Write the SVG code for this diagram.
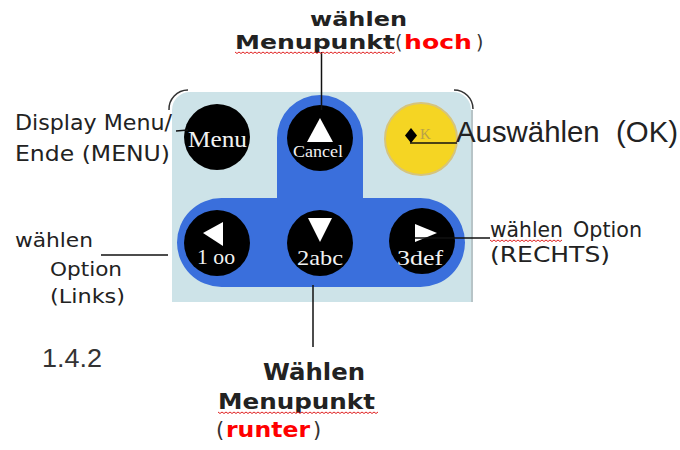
<svg xmlns="http://www.w3.org/2000/svg" width="680" height="450" viewBox="0 0 680 450">
<style>
.lbl{font-family:"DejaVu Sans","Liberation Sans",sans-serif;fill:#222}
.bold{font-family:"DejaVu Sans","Liberation Sans",sans-serif;font-weight:bold;fill:#222}
.red{fill:#ff0000}
.thin{font-family:"DejaVu Sans",sans-serif;fill:#333}
.btn{fill:#000}
.key{font-family:"Liberation Serif","DejaVu Serif",serif;fill:#f2f2f2}
.tri{fill:#fff}
.conn{stroke:#111;stroke-width:1.5;fill:none}
.squig{stroke:#e02020;stroke-width:1;fill:none}
</style>
<rect width="680" height="450" fill="#fff"/>
<g id="panel">
<path d="M172,110 A18,18 0 0 1 190,92 L453,92 A18,18 0 0 1 471,110 L471,302 L172,302 Z" fill="#cde3e8"/>
<line x1="472" y1="110" x2="472" y2="302" stroke="#9fb0b4" stroke-width="1.5"/>
<path d="M169,110 A19,19 0 0 1 188,90" stroke="#333" stroke-width="1.5" fill="none"/>
<path d="M454,90 A19,19 0 0 1 473,109" stroke="#333" stroke-width="1.5" fill="none"/>
<path d="M221.5,198 L277,198 L277,138 A43,43 0 0 1 363,138 L363,198 L420.5,198 A44.5,44.5 0 0 1 420.5,287 L221.5,287 A44.5,44.5 0 0 1 221.5,198 Z" fill="#3a6fdc"/>
</g>
<g id="btn-menu">
<circle class="btn" cx="217" cy="137" r="33"/>
<text class="key" x="188" y="147" font-size="24" textLength="59" lengthAdjust="spacingAndGlyphs">Menu</text>
</g>
<g id="btn-cancel">
<circle class="btn" cx="320" cy="138" r="33"/>
<polygon class="tri" points="320,118 333,142 307,142"/>
<text class="key" x="293" y="157" font-size="16" textLength="50" lengthAdjust="spacingAndGlyphs">Cancel</text>
</g>
<g id="btn-ok">
<circle cx="421" cy="139" r="36" fill="#f5d523" stroke="#d6c47c" stroke-width="2"/>
<polygon points="411,128 417,135.5 411,143 405,135.5" fill="#000"/>
<text x="420" y="139" font-family="Liberation Serif,serif" font-size="15" fill="#b9a248">K</text>
</g>
<g id="btn-left">
<circle class="btn" cx="217" cy="243" r="33"/>
<polygon class="tri" points="203,233 223,222 223,246"/>
<text class="key" x="197" y="264" font-size="21" textLength="38" lengthAdjust="spacingAndGlyphs">1 oo</text>
</g>
<g id="btn-down">
<circle class="btn" cx="320" cy="243" r="33"/>
<polygon class="tri" points="308,218 332,218 320,242"/>
<text class="key" x="297" y="265" font-size="22" textLength="46" lengthAdjust="spacingAndGlyphs">2abc</text>
</g>
<g id="btn-right">
<circle class="btn" cx="422" cy="241" r="33"/>
<polygon class="tri" points="415,224 437,233 415,242"/>
<text class="key" x="397" y="265" font-size="22" textLength="46" lengthAdjust="spacingAndGlyphs">3def</text>
</g>
<g id="connectors">
<line class="conn" x1="321.5" y1="52" x2="321.5" y2="110"/>
<line class="conn" x1="313" y1="285" x2="313" y2="347"/>
<line class="conn" x1="101" y1="255" x2="168" y2="255"/>
<line class="conn" x1="415" y1="238" x2="490" y2="238"/>
<line class="conn" x1="410" y1="143" x2="457" y2="143"/>
<line class="conn" x1="176" y1="131" x2="188" y2="130"/>
</g>
<g id="label-up">
<text class="bold" x="310" y="26" font-size="20" textLength="97" lengthAdjust="spacingAndGlyphs">wählen</text>
<text class="bold" x="235" y="49" font-size="19" textLength="160" lengthAdjust="spacingAndGlyphs">Menupunkt</text>
<text class="thin" x="395" y="49" font-size="19">(</text>
<text class="bold red" x="404" y="49" font-size="19" textLength="68" lengthAdjust="spacingAndGlyphs">hoch</text>
<text class="thin" x="476" y="49" font-size="19">)</text>
<path class="squig" d="M235,52 l2,1.5 2,-1.5 2,1.5 2,-1.5 2,1.5 2,-1.5 2,1.5 2,-1.5 2,1.5 2,-1.5 2,1.5 2,-1.5 2,1.5 2,-1.5 2,1.5 2,-1.5 2,1.5 2,-1.5 2,1.5 2,-1.5 2,1.5 2,-1.5 2,1.5 2,-1.5 2,1.5 2,-1.5 2,1.5 2,-1.5 2,1.5 2,-1.5 2,1.5 2,-1.5 2,1.5 2,-1.5 2,1.5 2,-1.5 2,1.5 2,-1.5 2,1.5 2,-1.5 2,1.5 2,-1.5 2,1.5 2,-1.5 2,1.5 2,-1.5 2,1.5 2,-1.5 2,1.5 2,-1.5 2,1.5 2,-1.5 2,1.5 2,-1.5 2,1.5 2,-1.5 2,1.5 2,-1.5 2,1.5 2,-1.5 2,1.5 2,-1.5 2,1.5 2,-1.5 2,1.5 2,-1.5 2,1.5 2,-1.5 2,1.5 2,-1.5 2,1.5 2,-1.5 2,1.5 2,-1.5 2,1.5 2,-1.5 2,1.5 2,-1.5 2,1.5 2,-1.5"/>
</g>
<g id="label-menu">
<text class="lbl" x="15" y="130" font-size="22" textLength="157" lengthAdjust="spacingAndGlyphs">Display Menu/</text>
<text class="lbl" x="15" y="161" font-size="22" textLength="155" lengthAdjust="spacingAndGlyphs">Ende (MENU)</text>
</g>
<g id="label-ok">
<text x="456" y="142" font-family="Liberation Sans,Arial,sans-serif" font-size="29" fill="#222" textLength="222" lengthAdjust="spacingAndGlyphs">Auswählen&#160; (OK)</text>
</g>
<g id="label-left">
<text class="lbl" x="15" y="247" font-size="20" textLength="78" lengthAdjust="spacingAndGlyphs">wählen</text>
<text class="lbl" x="50" y="276" font-size="20" textLength="72" lengthAdjust="spacingAndGlyphs">Option</text>
<text class="lbl" x="50" y="303" font-size="20" textLength="75" lengthAdjust="spacingAndGlyphs">(Links)</text>
</g>
<g id="label-right">
<text class="lbl" x="490" y="237" font-size="21" textLength="73" lengthAdjust="spacingAndGlyphs">wählen</text>
<text class="lbl" x="573" y="237" font-size="21" textLength="69" lengthAdjust="spacingAndGlyphs">Option</text>
<text class="lbl" x="490" y="262" font-size="22" textLength="120" lengthAdjust="spacingAndGlyphs">(RECHTS)</text>
<path class="squig" d="M490,240 l2,1.5 2,-1.5 2,1.5 2,-1.5 2,1.5 2,-1.5 2,1.5 2,-1.5 2,1.5 2,-1.5 2,1.5 2,-1.5 2,1.5 2,-1.5 2,1.5 2,-1.5 2,1.5 2,-1.5 2,1.5 2,-1.5 2,1.5 2,-1.5 2,1.5 2,-1.5 2,1.5 2,-1.5 2,1.5 2,-1.5 2,1.5 2,-1.5 2,1.5 2,-1.5 2,1.5 2,-1.5 2,1.5 2,-1.5"/>
</g>
<g id="label-down">
<text class="bold" x="263" y="380" font-size="23" textLength="102" lengthAdjust="spacingAndGlyphs">Wählen</text>
<text class="bold" x="218" y="409" font-size="22" textLength="157" lengthAdjust="spacingAndGlyphs">Menupunkt</text>
<text class="thin" x="216" y="437" font-size="21">(</text>
<text class="bold red" x="226" y="437" font-size="22" textLength="84" lengthAdjust="spacingAndGlyphs">runter</text>
<text class="thin" x="313" y="437" font-size="21">)</text>
<path class="squig" d="M218,412 l2,1.5 2,-1.5 2,1.5 2,-1.5 2,1.5 2,-1.5 2,1.5 2,-1.5 2,1.5 2,-1.5 2,1.5 2,-1.5 2,1.5 2,-1.5 2,1.5 2,-1.5 2,1.5 2,-1.5 2,1.5 2,-1.5 2,1.5 2,-1.5 2,1.5 2,-1.5 2,1.5 2,-1.5 2,1.5 2,-1.5 2,1.5 2,-1.5 2,1.5 2,-1.5 2,1.5 2,-1.5 2,1.5 2,-1.5 2,1.5 2,-1.5 2,1.5 2,-1.5 2,1.5 2,-1.5 2,1.5 2,-1.5 2,1.5 2,-1.5 2,1.5 2,-1.5 2,1.5 2,-1.5 2,1.5 2,-1.5 2,1.5 2,-1.5 2,1.5 2,-1.5 2,1.5 2,-1.5 2,1.5 2,-1.5 2,1.5 2,-1.5 2,1.5 2,-1.5 2,1.5 2,-1.5 2,1.5 2,-1.5 2,1.5 2,-1.5 2,1.5 2,-1.5 2,1.5 2,-1.5 2,1.5 2,-1.5 2,1.5 2,-1.5 2,1.5 2,-1.5"/>
</g>
<g id="label-version">
<text x="42" y="367" font-family="Liberation Sans,Arial,sans-serif" font-size="25" fill="#333" textLength="60" lengthAdjust="spacingAndGlyphs">1.4.2</text>
</g>
</svg>
